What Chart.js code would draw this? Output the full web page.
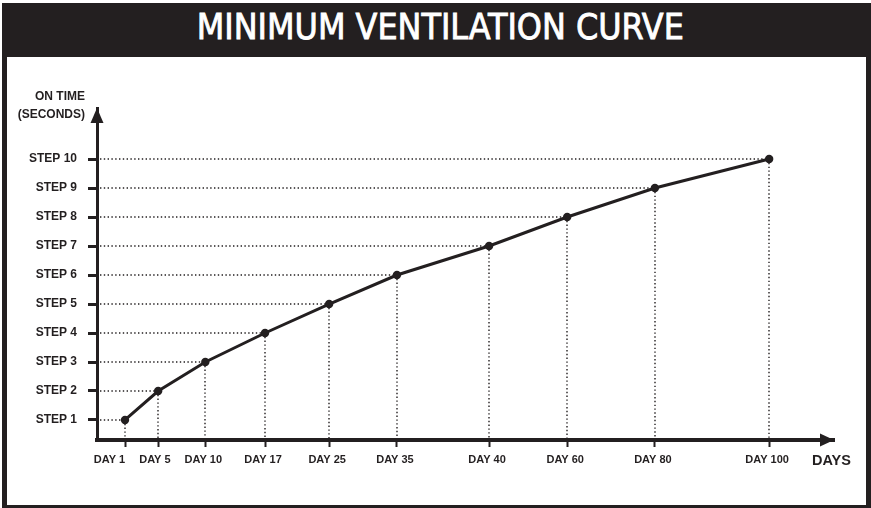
<!DOCTYPE html>
<html>
<head>
<meta charset="utf-8">
<script src="https://cdn.jsdelivr.net/npm/chart.js@4.4.1/dist/chart.umd.min.js"></script>
<style>
  html, body { margin: 0; padding: 0; background: #ffffff; width: 871px; height: 508px; overflow: hidden; }
  #frame { position: absolute; left: 2px; top: 3px; width: 869px; height: 505px; background: #231f20; }
  #inner { position: absolute; left: 7px; top: 57px; width: 859px; height: 448px; background: #ffffff; }
  #title { position: absolute; left: 5px; top: 10px; width: 871px; text-align: center; color: #ffffff;
           font-family: "Liberation Sans Narrow", "DejaVu Sans Condensed", "Liberation Sans", sans-serif;
           font-weight: normal; font-size: 35px; line-height: 35px; white-space: nowrap;
           -webkit-text-stroke: 0.8px #ffffff; }
  #title span { display: inline-block; transform-origin: center; }
  #c { position: absolute; left: 0; top: 0; }
</style>
</head>
<body>
<div id="frame"></div>
<div id="inner"></div>
<div id="title"><span id="titleText">MINIMUM VENTILATION CURVE</span></div>
<canvas id="c" width="871" height="508"></canvas>
<script>
// ---- data ----
const dayLabels = ['DAY 1', 'DAY 5', 'DAY 10', 'DAY 17', 'DAY 25', 'DAY 35', 'DAY 40', 'DAY 60', 'DAY 80', 'DAY 100'];
// schematic position of each day along the (non-proportional) horizontal axis, 0-100
const dayAxisPos = [3.8, 8.3, 14.7, 22.8, 31.5, 40.7, 53.2, 63.8, 75.7, 91.2];
// ventilation step reached on each day
const onTimeStep = [1, 2, 3, 4, 5, 6, 7, 8, 9, 10];
const stepTickValues = [1, 2, 3, 4, 5, 6, 7, 8, 9, 10];
const stepTickLabels = ['STEP 1', 'STEP 2', 'STEP 3', 'STEP 4', 'STEP 5', 'STEP 6', 'STEP 7', 'STEP 8', 'STEP 9', 'STEP 10'];
const yAxisTitle = ['ON TIME', '(SECONDS)'];
const xAxisTitle = 'DAYS';

// fit title width
(function () {
  const s = document.getElementById('titleText');
  const w = s.getBoundingClientRect().width;
  if (w > 0) s.style.transform = 'scaleX(' + (487 / w) + ')';
})();

const INK = '#231f20';
const FONT = '"Liberation Sans", Arial, Helvetica, sans-serif';

const decorPlugin = {
  id: 'decor',
  beforeDatasetsDraw(chart) {
    const ctx = chart.ctx, a = chart.chartArea;
    const pts = chart.getDatasetMeta(0).data;
    ctx.save();
    ctx.strokeStyle = INK;
    ctx.lineWidth = 1.4;
    ctx.setLineDash([1.4, 2.4]);
    pts.forEach(p => {
      const y = Math.round(p.y), x = Math.round(p.x);
      ctx.beginPath(); ctx.moveTo(a.left + 3, y); ctx.lineTo(p.x, y); ctx.stroke();
      ctx.beginPath(); ctx.moveTo(x, p.y); ctx.lineTo(x, a.bottom - 2); ctx.stroke();
    });
    ctx.restore();
  },
  afterDraw(chart) {
    const ctx = chart.ctx, a = chart.chartArea;
    const xs = chart.scales.x;
    ctx.save();
    ctx.fillStyle = INK;
    // y arrow
    ctx.beginPath();
    ctx.moveTo(a.left, a.top);
    ctx.lineTo(a.left - 6.5, a.top + 15);
    ctx.lineTo(a.left + 6.5, a.top + 15);
    ctx.closePath(); ctx.fill();
    // x arrow
    ctx.beginPath();
    ctx.moveTo(a.right, a.bottom);
    ctx.lineTo(a.right - 14, a.bottom - 6.5);
    ctx.lineTo(a.right - 14, a.bottom + 6.5);
    ctx.closePath(); ctx.fill();

    // x tick labels: centred under ticks, pushed left when they would collide with the next
    ctx.font = 'bold 11px ' + FONT;
    ctx.textAlign = 'center';
    ctx.textBaseline = 'alphabetic';
    const centers = dayAxisPos.map(v => xs.getPixelForValue(v) - 2);
    const widths = dayLabels.map(t => ctx.measureText(t).width);
    for (let i = centers.length - 2; i >= 0; i--) {
      const nextLeft = centers[i + 1] - widths[i + 1] / 2;
      const overlap = centers[i] + widths[i] / 2 - (nextLeft - 14);
      if (overlap > 0) centers[i] -= overlap;
    }
    dayLabels.forEach((t, i) => ctx.fillText(t, centers[i], a.bottom + 23));

    // axis titles
    ctx.font = 'bold 12px ' + FONT;
    ctx.textAlign = 'right';
    ctx.fillText(yAxisTitle[0], a.left - 12, a.top - 8);
    ctx.fillText(yAxisTitle[1], a.left - 12, a.top + 10);
    ctx.font = 'bold 14.5px ' + FONT;
    ctx.textAlign = 'left';
    ctx.fillText(xAxisTitle, a.right - 22, a.bottom + 25);
    ctx.restore();
  }
};

new Chart(document.getElementById('c'), {
  type: 'line',
  data: {
    datasets: [{
      data: onTimeStep.map((v, i) => ({ x: dayAxisPos[i], y: v })),
      borderColor: INK,
      backgroundColor: INK,
      borderWidth: 3,
      pointRadius: 4.2,
      pointBorderWidth: 0,
      pointBackgroundColor: INK,
      tension: 0,
      clip: false
    }]
  },
  options: {
    responsive: false,
    animation: false,
    devicePixelRatio: 1,
    layout: { padding: { top: 108, right: 37, bottom: 0, left: 0 } },
    plugins: { legend: { display: false }, tooltip: { enabled: false }, title: { display: false } },
    scales: {
      x: {
        type: 'linear',
        min: 0, max: 100,
        afterBuildTicks: s => { s.ticks = dayAxisPos.map(v => ({ value: v })); },
        afterFit: s => { s.height = 68; s.paddingLeft = 0; s.paddingRight = 0; },
        ticks: { display: false, autoSkip: false, maxRotation: 0, minRotation: 0 },
        grid: { drawOnChartArea: false, drawTicks: true, tickLength: 7, tickWidth: 2, tickColor: INK },
        border: { display: true, color: INK, width: 4 }
      },
      y: {
        type: 'linear',
        min: 0.31, max: 11.76,
        afterBuildTicks: s => { s.ticks = stepTickValues.map(v => ({ value: v })); },
        afterFit: s => { s.width = 97; },
        ticks: {
          autoSkip: false,
          callback: (v, i) => stepTickLabels[i],
          color: INK,
          font: { family: FONT, size: 12, weight: 'bold' },
          padding: 11
        },
        grid: { drawOnChartArea: false, drawTicks: true, tickLength: 9, tickWidth: 3, tickColor: INK },
        border: { display: true, color: INK, width: 3 }
      }
    }
  },
  plugins: [decorPlugin]
});
</script>
</body>
</html>
